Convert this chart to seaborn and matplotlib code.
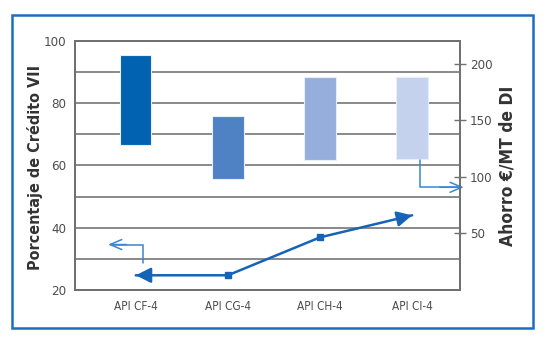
import matplotlib
matplotlib.use("Agg")
import matplotlib.pyplot as plt
from matplotlib.patches import Rectangle
import seaborn as sns
import pandas as pd

# Grades of diesel engine oil and their credit percentage ranges
categories = ["API CF-4", "API CG-4", "API CH-4", "API CI-4"]
credit_low = [66.5, 55.7, 61.8, 62.0]
credit_high = [95.5, 76.0, 88.4, 88.4]
bar_colors = ["#0062B1", "#4F82C5", "#95AEDB", "#C5D2EE"]

# Savings in EUR per tonne of distillate (right axis)
savings = [13, 13, 46.5, 66]

left_ticks = [20, 40, 60, 80, 100]
right_ticks = [50, 100, 150, 200]

sns.set_theme(style="white")
plt.rcParams["font.family"] = ["DejaVu Sans"]
plt.rcParams["font.stretch"] = "condensed"

fig = plt.figure(figsize=(5.5, 3.46), dpi=100)
ax = fig.add_axes([75 / 550, 1 - 290 / 346, 385 / 550, 249 / 346])
ax2 = ax.twinx()

pos = list(range(len(categories)))
heights = [h - l for h, l in zip(credit_high, credit_low)]

ax.bar(pos, heights, bottom=credit_low, width=0.34, color=bar_colors,
       edgecolor="#E8EEF8", linewidth=0.8, zorder=3)

ax.set_xlim(-0.66, 3.52)
ax.set_ylim(20, 100)
ax.set_yticks(left_ticks)
ax.set_yticks([30, 50, 70, 90], minor=True)
ax.grid(True, which="both", axis="y", color="#808080", linewidth=1.3, zorder=0)
ax.grid(False, axis="x")
ax.set_xticks(pos)
ax.set_xticklabels(categories, fontstretch="condensed")
ax.tick_params(axis="x", length=0, pad=7, labelsize=8.5, labelcolor="#4d4d4d")
ax.tick_params(axis="y", which="both", length=0, pad=6, labelsize=9.5,
               labelcolor="#4d4d4d")

for a in (ax, ax2):
    for s in a.spines.values():
        s.set_color("#707070")
        s.set_linewidth(1.3)

ax2.set_ylim(0, 220)
ax2.set_yticks(right_ticks)
ax2.tick_params(axis="y", direction="inout", length=8, width=1, color="#707070",
                pad=3, labelsize=9.5, labelcolor="#4d4d4d")
ax2.grid(False)

# Savings line with arrowheads on both ends
line_color = "#1663B8"
df = pd.DataFrame({"pos": pos, "savings": savings})
sns.lineplot(data=df, x="pos", y="savings", ax=ax2, color=line_color,
             linewidth=1.8, zorder=4)
ax2.plot(pos[1:3], savings[1:3], linestyle="none", marker="s", markersize=4.5,
         color=line_color, zorder=5)
ax2.annotate("", xy=(pos[0], savings[0]), xytext=(pos[0] + 0.15, savings[0]),
             arrowprops=dict(arrowstyle="-|>,head_length=0.75,head_width=0.38",
                             color=line_color, lw=1.8, shrinkA=0, shrinkB=0))
dx = pos[3] - pos[2]
dy = savings[3] - savings[2]
f = 0.15
ax2.annotate("", xy=(pos[3], savings[3]),
             xytext=(pos[3] - f * dx, savings[3] - f * dy),
             arrowprops=dict(arrowstyle="-|>,head_length=0.75,head_width=0.38",
                             color=line_color, lw=1.8, shrinkA=0, shrinkB=0))
ax2.set_xlabel("")
ax2.set_ylabel("")
ax.set_xlabel("")

# Pointers telling which axis each series uses
pointer = "#3C86D0"
ax.plot([0.08, 0.08, -0.27], [28.7, 34.6, 34.6], color=pointer, lw=1.1,
        zorder=4, solid_joinstyle="miter")
ax.annotate("", xy=(-0.30, 34.6), xytext=(-0.1, 34.6),
            arrowprops=dict(arrowstyle="->,head_length=0.7,head_width=0.3",
                            color=pointer, lw=1.1, shrinkA=0, shrinkB=0))
ax.plot([3.09, 3.09, 3.50], [61.8, 53.0, 53.0], color=pointer, lw=1.1,
        zorder=4, clip_on=False, solid_joinstyle="miter")
ax.annotate("", xy=(3.56, 53.0), xytext=(3.3, 53.0),
            arrowprops=dict(arrowstyle="->,head_length=0.7,head_width=0.3",
                            color=pointer, lw=1.1, shrinkA=0, shrinkB=0),
            annotation_clip=False)

fig.text(35 / 550, 0.516, "Porcentaje de Crédito VII", rotation=90,
         ha="center", va="center", fontsize=11.5, fontweight="bold",
         fontstretch="condensed", color="#333333")
fig.text(507 / 550, 0.52, "Ahorro €/MT de DI", rotation=90,
         ha="center", va="center", fontsize=12.5, fontweight="bold",
         fontstretch="condensed", color="#333333")

fig.patches.append(Rectangle((12 / 550, 1 - 328 / 346), 521 / 550, 313 / 346,
                             transform=fig.transFigure, fill=False,
                             edgecolor="#1D6EC1", linewidth=1.8))

fig.savefig("out.png", dpi=100, facecolor="white")
